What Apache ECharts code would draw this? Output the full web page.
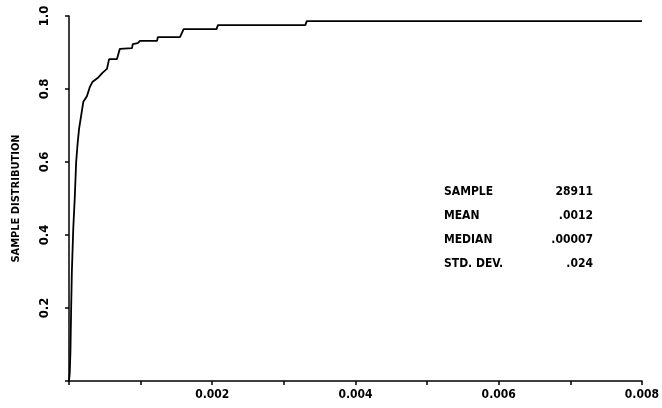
<!DOCTYPE html>
<html>
<head>
<meta charset="utf-8">
<script src="https://cdn.jsdelivr.net/npm/echarts@6/dist/echarts.min.js"></script>
<style>
  html, body { margin: 0; padding: 0; background: #fff; }
  #chart { width: 662px; height: 408px; }
</style>
</head>
<body>
<div id="chart"></div>
<script>
var xValues = [0, 0.00001, 0.00002, 0.00003, 0.00004, 0.00006, 0.00008, 0.0001, 0.00012, 0.00014,
  0.00018, 0.0002, 0.00025, 0.00029, 0.00033, 0.0004, 0.00047, 0.00053, 0.00056, 0.00067,
  0.00071, 0.00088, 0.00089, 0.00096, 0.00099, 0.00123, 0.00124, 0.00155, 0.0016, 0.00206,
  0.00208, 0.0033, 0.00332, 0.008]
var yValues = [0, 0.02, 0.08, 0.2, 0.3, 0.42, 0.5, 0.6, 0.65, 0.69,
  0.74, 0.765, 0.78, 0.805, 0.82, 0.83, 0.845, 0.855, 0.882, 0.882,
  0.91, 0.912, 0.923, 0.926, 0.932, 0.932, 0.942, 0.942, 0.964, 0.964,
  0.975, 0.975, 0.986, 0.986]
var xTickLabels = ['0.002', '0.004', '0.006', '0.008']
var yTickLabels = ['0.2', '0.4', '0.6', '0.8', '1.0']
var statNames = ['SAMPLE', 'MEAN', 'MEDIAN', 'STD. DEV.']
var statValues = ['28911', '.0012', '.00007', '.024']

var font = 'DejaVu Sans Condensed'
var chart = echarts.init(document.getElementById('chart'))

var points = xValues.map(function (x, i) { return [x, yValues[i]] })

var statText = []
statNames.forEach(function (name, i) {
  statText.push({
    type: 'text', left: 444, top: 186 + i * 24,
    style: { text: name, font: 'bold 12px "' + font + '"', fill: '#000' }
  })
  statText.push({
    type: 'text', right: 69, top: 186 + i * 24,
    style: { text: statValues[i], font: 'bold 12px "' + font + '"', fill: '#000', align: 'right' }
  })
})

chart.setOption({
  animation: false,
  grid: { left: 69, right: 19, top: 16, bottom: 27 },
  xAxis: {
    type: 'value', min: 0, max: 0.008, interval: 0.001,
    axisLine: { lineStyle: { color: '#000', width: 1.5 } },
    axisTick: { length: 4, lineStyle: { color: '#000', width: 1.5 } },
    splitLine: { show: false },
    axisLabel: {
      color: '#000', fontFamily: font, fontWeight: 'bold', fontSize: 12, margin: 8,
      formatter: function (v) {
        var k = Math.round(v * 1000)
        return (k > 0 && k % 2 === 0) ? xTickLabels[k / 2 - 1] : ''
      }
    }
  },
  yAxis: {
    type: 'value', min: 0, max: 1, interval: 0.2,
    name: 'SAMPLE DISTRIBUTION', nameLocation: 'middle', nameGap: 47,
    nameTextStyle: { color: '#000', fontFamily: font, fontWeight: 'bold', fontSize: 11 },
    axisLine: { show: true, lineStyle: { color: '#000', width: 1.5 } },
    axisTick: { show: true, length: 4, lineStyle: { color: '#000', width: 1.5 } },
    splitLine: { show: false },
    axisLabel: {
      color: '#000', fontFamily: font, fontWeight: 'bold', fontSize: 13, rotate: 90, margin: 18,
      formatter: function (v) {
        var k = Math.round(v * 5)
        return k > 0 ? yTickLabels[k - 1] : ''
      }
    }
  },
  graphic: statText,
  series: [{
    type: 'line',
    data: points,
    symbol: 'none',
    lineStyle: { color: '#000', width: 1.8 }
  }]
})
</script>
</body>
</html>
